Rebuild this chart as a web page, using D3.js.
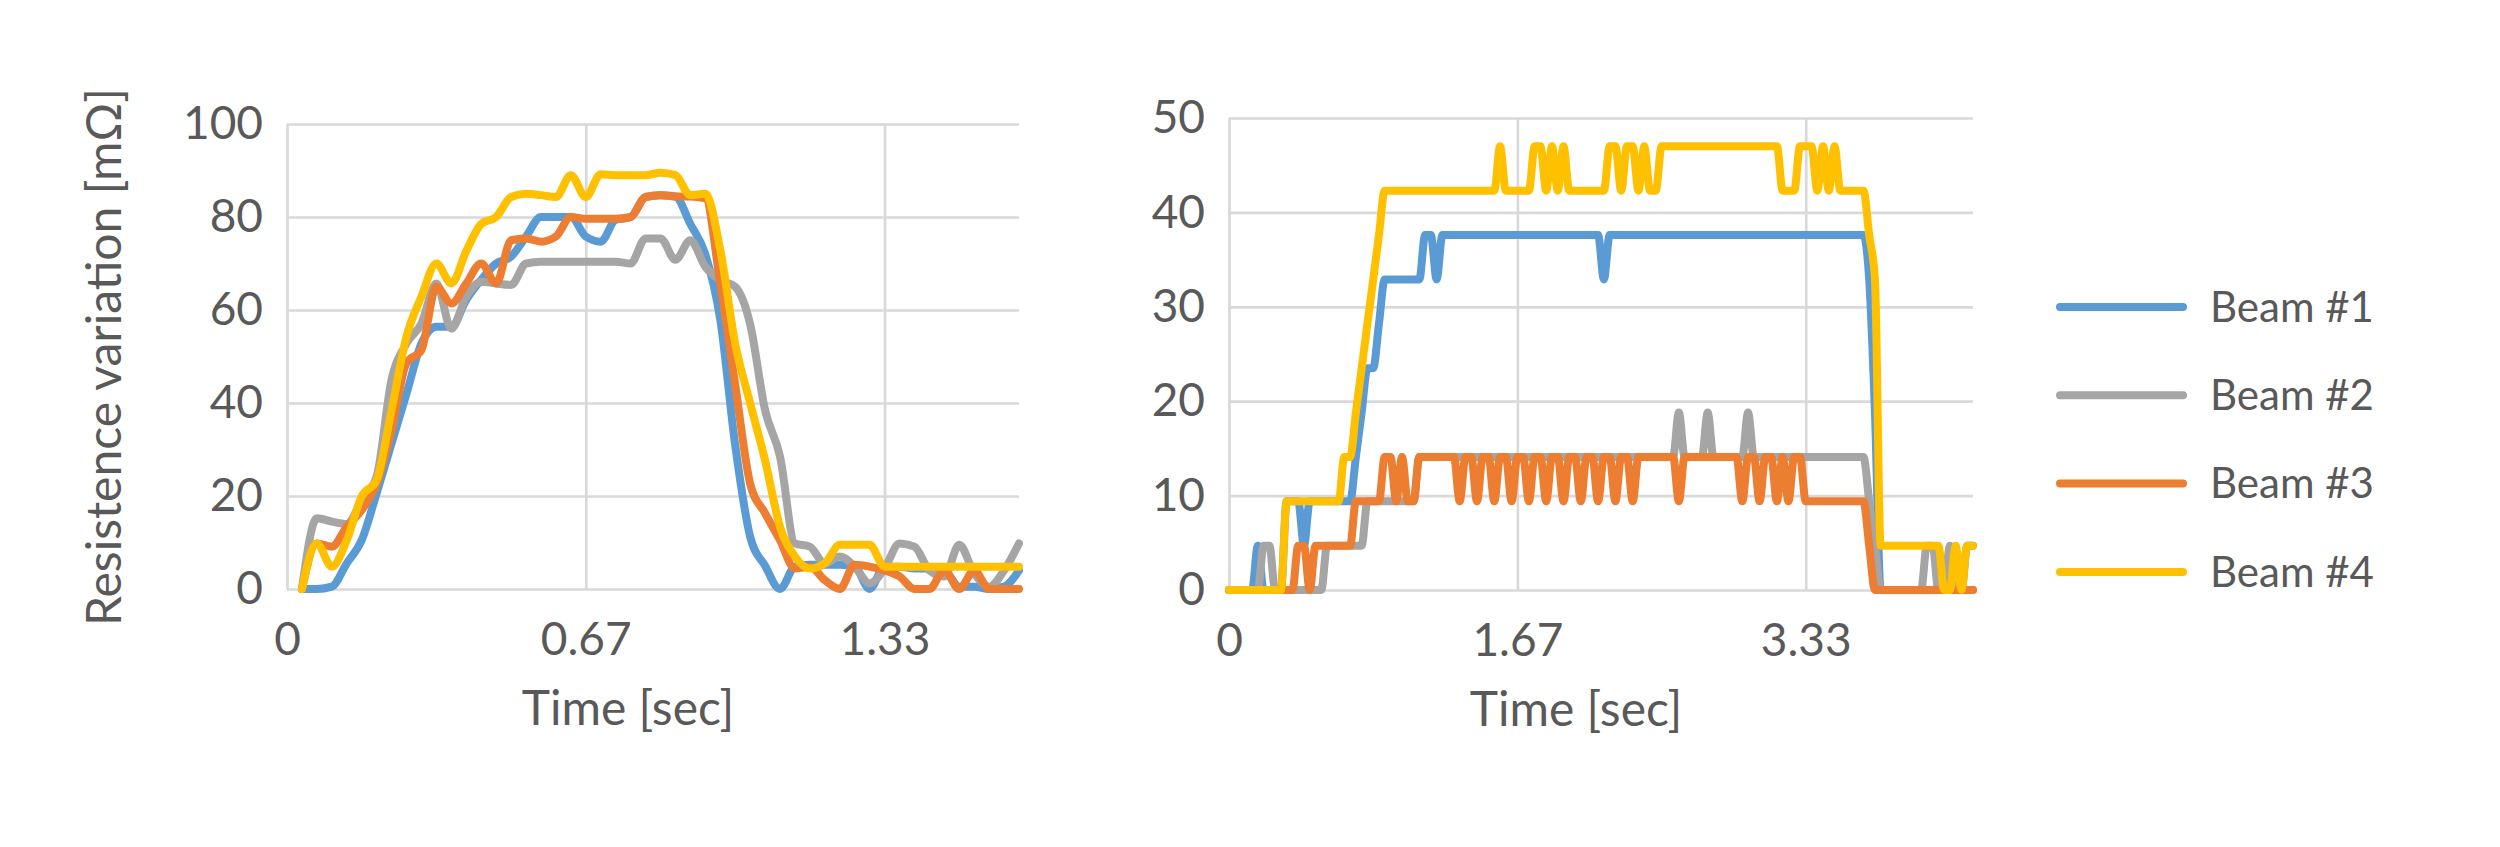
<!DOCTYPE html>
<html>
<head>
<meta charset="utf-8">
<script src="https://cdnjs.cloudflare.com/ajax/libs/d3/7.8.5/d3.min.js"></script>
<style>
body{margin:0;background:#fff}
text{font-family:Lato,"Open Sans",sans-serif}
</style>
</head>
<body>
<script>
var dt = 1/30   // sampling step [sec]

var beamNames = ['Beam #1','Beam #2','Beam #3','Beam #4']
var colors = ['#5B9BD5','#A5A5A5','#ED7D31','#FFC000']

// left chart
var leftYTicks = [0,20,40,60,80,100]
var leftXTicks = [0,0.6667,1.3333]
var leftXLabels = ['0','0.67','1.33']

var leftBeam1 = [null,0,0,0.5,5.5,10.5,20.6,31.3,42,52.8,
	56.4,56.4,62.2,66.5,70,71.5,75.8,80,80,80,
	75.8,74.7,79.4,80,84.3,84.7,84.4,78.5,72,58,
	31,11.3,5,0,4.8,5.2,5.2,5.2,4.8,0,
	4.8,4.8,4.4,4.4,4,0.5,0.5,0,0.5,4]
var leftBeam2 = [null,0,15.2,14.5,14,19,24.2,45,52.8,57.1,
	65.7,56,62.9,66.1,65.7,65.4,70,70.4,70.4,70.4,
	70.4,70.4,70.4,70,75.4,75.4,70.8,75,69.3,66.5,
	65,57,38.5,28.5,9.8,9.1,5.5,7,4.8,1.2,
	4.4,9.8,9.1,4,2.7,9.5,3.4,0.5,4,9.8]
var leftBeam3 = [null,0,9.8,9.1,13.4,17,22.7,34.2,48.6,51.4,
	65,61.4,65.7,70,65.7,75,75.4,74.7,75.8,80,
	79.6,79.6,79.6,80,84.3,84.7,84.4,84.4,84,65.7,
	44,22.7,16.3,10.5,4.4,4.8,1.9,0,5.2,4.8,
	4,2.7,0,0,4,0,4,0,0,0]
var leftBeam4 = [null,0,9.8,4.8,10.5,19.9,23.4,38.5,54.3,62.9,
	70,65.7,72.7,78.5,80,84.3,85,84.7,84.3,89,
	84.3,89.2,89,89,89,89.5,89,84.7,85,73,
	52.8,40,27.7,13.4,7,4.4,5.5,9.5,9.5,9.5,
	4.8,4.8,4.8,4.8,4.8,4.8,4.8,4.8,4.8,4.8]

// right chart
var rightYTicks = [0,10,20,30,40,50]
var rightXTicks = [0,1.6667,3.3333]
var rightXLabels = ['0','1.67','3.33']

var rightBeam1 = [0,0,0,0,0,4.7,0,0,0,0,
	9.4,9.4,9.4,4.7,9.4,9.4,9.4,9.4,9.4,9.4,
	9.4,9.4,14.1,18.8,23.5,23.5,28.2,32.9,32.9,32.9,
	32.9,32.9,32.9,32.9,37.6,37.6,32.9,37.6,37.6,37.6,
	37.6,37.6,37.6,37.6,37.6,37.6,37.6,37.6,37.6,37.6,
	37.6,37.6,37.6,37.6,37.6,37.6,37.6,37.6,37.6,37.6,
	37.6,37.6,37.6,37.6,37.6,32.9,37.6,37.6,37.6,37.6,
	37.6,37.6,37.6,37.6,37.6,37.6,37.6,37.6,37.6,37.6,
	37.6,37.6,37.6,37.6,37.6,37.6,37.6,37.6,37.6,37.6,
	37.6,37.6,37.6,37.6,37.6,37.6,37.6,37.6,37.6,37.6,
	37.6,37.6,37.6,37.6,37.6,37.6,37.6,37.6,37.6,37.6,
	37.6,32.9,18.8,0,0,0,0,0,0,0,
	0,0,0,0,0,0,0,0,4.7,4.7]
var rightBeam2 = [0,0,0,0,0,0,4.7,4.7,0,0,
	0,0,0,0,0,0,0,4.7,4.7,4.7,
	4.7,4.7,4.7,4.7,9.4,9.4,9.4,9.4,9.4,9.4,
	9.4,9.4,9.4,14.1,14.1,14.1,14.1,14.1,14.1,14.1,
	14.1,14.1,14.1,14.1,14.1,14.1,14.1,14.1,14.1,14.1,
	14.1,14.1,14.1,14.1,14.1,14.1,14.1,14.1,14.1,14.1,
	14.1,14.1,14.1,14.1,14.1,14.1,14.1,14.1,14.1,14.1,
	14.1,14.1,14.1,14.1,14.1,14.1,14.1,14.1,18.8,14.1,
	14.1,14.1,14.1,18.8,14.1,14.1,14.1,14.1,14.1,14.1,
	18.8,14.1,14.1,14.1,14.1,14.1,14.1,14.1,14.1,14.1,
	14.1,14.1,14.1,14.1,14.1,14.1,14.1,14.1,14.1,14.1,
	14.1,9.4,4.7,0,0,0,0,0,0,0,
	0,4.7,4.7,0,0,4.7,0,0,0,0]
var rightBeam3 = [0,0,0,0,0,0,0,0,0,0,
	0,0,4.7,4.7,0,4.7,4.7,4.7,4.7,4.7,
	4.7,4.7,9.4,9.4,9.4,9.4,9.4,14.1,14.1,9.4,
	14.1,9.4,9.4,14.1,14.1,14.1,14.1,14.1,14.1,14.1,
	9.4,14.1,14.1,9.4,14.1,14.1,9.4,14.1,14.1,9.4,
	14.1,14.1,9.4,14.1,14.1,9.4,14.1,14.1,9.4,14.1,
	14.1,9.4,14.1,14.1,9.4,14.1,14.1,9.4,14.1,14.1,
	9.4,14.1,14.1,14.1,14.1,14.1,14.1,14.1,9.4,14.1,
	14.1,14.1,14.1,14.1,14.1,14.1,14.1,14.1,14.1,9.4,
	14.1,14.1,9.4,14.1,14.1,9.4,14.1,9.4,14.1,14.1,
	9.4,9.4,9.4,9.4,9.4,9.4,9.4,9.4,9.4,9.4,
	9.4,4.7,0,0,0,0,0,0,0,0,
	0,0,0,0,0,0,0,0,0,0]
var rightBeam4 = [0,0,0,0,0,0,0,0,0,0,
	9.4,9.4,9.4,9.4,9.4,9.4,9.4,9.4,9.4,9.4,
	14.1,14.1,18.8,23.5,28.2,32.9,37.6,42.3,42.3,42.3,
	42.3,42.3,42.3,42.3,42.3,42.3,42.3,42.3,42.3,42.3,
	42.3,42.3,42.3,42.3,42.3,42.3,42.3,47,42.3,42.3,
	42.3,42.3,42.3,47,47,42.3,47,42.3,47,42.3,
	42.3,42.3,42.3,42.3,42.3,42.3,47,47,42.3,47,
	47,42.3,47,42.3,42.3,47,47,47,47,47,
	47,47,47,47,47,47,47,47,47,47,
	47,47,47,47,47,47,42.3,42.3,42.3,47,
	47,47,42.3,47,42.3,47,42.3,42.3,42.3,42.3,
	42.3,37.6,32.9,4.7,4.7,4.7,4.7,4.7,4.7,4.7,
	4.7,4.7,4.7,4.7,0,0,4.7,0,4.7,4.7]

var width = 2500,
	height = 847

var svg = d3.select('body')
	.append('svg')
	.attr('width',width)
	.attr('height',height)
	.style('background','#fff')

function drawChart(box, series, yTicks, xTicks, xLabels) {
	var n = series[0].length

	var escalaX = d3.scaleLinear()
		.domain([0,(n-1)*dt])
		.range([box.left,box.right])

	var escalaY = d3.scaleLinear()
		.domain([0,d3.max(yTicks)])
		.range([box.bottom,box.top])

	var ejeY = d3.axisLeft(escalaY)
		.tickValues(yTicks)
		.tickSize(-(box.right-box.left))
		.tickPadding(24)

	var ejeX = d3.axisBottom(escalaX)
		.tickValues(xTicks)
		.tickFormat((d,i)=>xLabels[i])
		.tickSize(-(box.bottom-box.top))
		.tickPadding(33)

	// axis styling goes after .call, the axis resets font attrs
	svg.append('g')
		.attr('transform','translate('+box.left+',0)')
		.call(ejeY)
		.attr('color','#595959')
		.attr('font-family','Lato, sans-serif')
		.attr('font-size',46)
		.call(g=>g.select('.domain').remove())
		.call(g=>g.selectAll('line').attr('stroke','#d9d9d9').attr('stroke-width',2.7))

	svg.append('g')
		.attr('transform','translate(0,'+box.bottom+')')
		.call(ejeX)
		.attr('color','#595959')
		.attr('font-family','Lato, sans-serif')
		.attr('font-size',46)
		.call(g=>g.select('.domain').remove())
		.call(g=>g.selectAll('line').attr('stroke','#d9d9d9').attr('stroke-width',2.7))

	svg.append('text')
		.attr('x',(box.left+box.right)/2-25)
		.attr('y',box.bottom+136)
		.attr('text-anchor','middle')
		.attr('font-size',48)
		.attr('fill','#595959')
		.text('Time [sec]')

	var linea = d3.line()
		.defined(d=>d!=null)
		.x((d,i)=>escalaX(i*dt))
		.y(d=>escalaY(d))
		.curve(d3.curveMonotoneX)

	svg.append('g')
		.selectAll('path')
		.data(series).enter()
		.append('path')
		.attr('d',linea)
		.attr('fill','none')
		.attr('stroke',(d,i)=>colors[i])
		.attr('stroke-width',8)
		.attr('stroke-linejoin','round')
		.attr('stroke-linecap','round')
}

drawChart({left:287,right:1019,top:124,bottom:589},
	[leftBeam1,leftBeam2,leftBeam3,leftBeam4], leftYTicks, leftXTicks, leftXLabels)

drawChart({left:1229,right:1973,top:118,bottom:590},
	[rightBeam1,rightBeam2,rightBeam3,rightBeam4], rightYTicks, rightXTicks, rightXLabels)

// y axis title
svg.append('text')
	.attr('transform','translate(104,357) rotate(-90)')
	.attr('text-anchor','middle')
	.attr('dy','0.35em')
	.attr('font-size',48)
	.attr('fill','#595959')
	.text('Resistence variation [mΩ]')

// legend
var legend = svg.append('g')
	.selectAll('g')
	.data(beamNames).enter()
	.append('g')
	.attr('transform',(d,i)=>'translate(2060,'+(307+i*88.3)+')')

legend.append('line')
	.attr('x1',0)
	.attr('x2',123)
	.attr('stroke',(d,i)=>colors[i])
	.attr('stroke-width',8)
	.attr('stroke-linecap','round')

legend.append('text')
	.attr('x',150)
	.attr('dy','0.35em')
	.attr('font-size',42)
	.attr('fill','#595959')
	.text(d=>d)
</script>
</body>
</html>
